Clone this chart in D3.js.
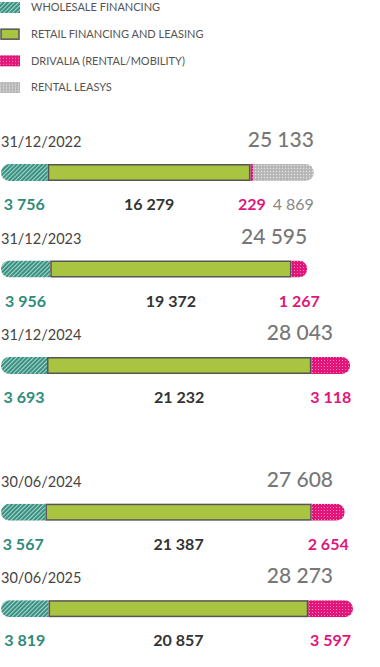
<!DOCTYPE html>
<html>
<head>
<meta charset="utf-8">
<script src="https://cdn.jsdelivr.net/npm/d3@7/dist/d3.min.js"></script>
<style>
  html, body { margin: 0; padding: 0; background: #fff; }
  svg { display: block; font-family: Lato, "Open Sans", sans-serif; }
</style>
</head>
<body>
<div id="chart"></div>
<script>
// ---- data ----
const dates = ["31/12/2022", "31/12/2023", "31/12/2024", "30/06/2024", "30/06/2025"];
const wholesale = [3756, 3956, 3693, 3567, 3819];
const retail = [16279, 19372, 21232, 21387, 20857];
const drivalia = [229, 1267, 3118, 2654, 3597];
const leasys = [4869, 0, 0, 0, 0];
const totals = [25133, 24595, 28043, 27608, 28273];
const seriesNames = ["WHOLESALE FINANCING", "RETAIL FINANCING AND LEASING", "DRIVALIA (RENTAL/MOBILITY)", "RENTAL LEASYS"];

// ---- setup ----
const W = 380, H = 667;
const svg = d3.select("#chart").append("svg").attr("width", W).attr("height", H);
const defs = svg.append("defs");

// patterns
const pW = defs.append("pattern").attr("id", "pWholesale").attr("patternUnits", "userSpaceOnUse")
  .attr("width", 3).attr("height", 3).attr("patternTransform", "rotate(45)");
pW.append("rect").attr("width", 3).attr("height", 3).attr("fill", "#348d7e");
pW.append("rect").attr("width", 1.1).attr("height", 3).attr("fill", "#a8d6cc");

const pD = defs.append("pattern").attr("id", "pDrivalia").attr("patternUnits", "userSpaceOnUse")
  .attr("width", 3).attr("height", 3);
pD.append("rect").attr("width", 3).attr("height", 3).attr("fill", "#e3157b");
pD.append("rect").attr("width", 1).attr("height", 1).attr("fill", "#f48abb");

const pL = defs.append("pattern").attr("id", "pLeasys").attr("patternUnits", "userSpaceOnUse")
  .attr("width", 3).attr("height", 3);
pL.append("rect").attr("width", 3).attr("height", 3).attr("fill", "#bdbdbd");
pL.append("rect").attr("width", 1).attr("height", 1).attr("fill", "#e2e2e2");
pL.append("rect").attr("x", 1.5).attr("y", 1.5).attr("width", 1).attr("height", 1).attr("fill", "#a2a2a2");

const fills = ["url(#pWholesale)", "#a9c440", "url(#pDrivalia)", "url(#pLeasys)"];
const labelColors = ["#2e8b7b", "#333333", "#e0177b", "#888888"];
const labelWeights = [700, 700, 700, 400];

// ---- legend ----
const legend = svg.append("g");
const legY = d3.scalePoint().domain(seriesNames).range([7.5, 87.5]);
seriesNames.forEach((name, i) => {
  const g = legend.append("g").attr("transform", `translate(0,${legY(name)})`);
  g.append("rect").attr("x", i === 1 ? 1 : 0).attr("y", i === 1 ? -5 : -5.5)
    .attr("width", i === 1 ? 18 : 20).attr("height", i === 1 ? 10 : 11)
    .attr("fill", fills[i])
    .attr("stroke", i === 1 ? "#555" : "none").attr("stroke-width", i === 1 ? 1.5 : 0);
  g.append("text").attr("x", 31).attr("y", 0).attr("dy", "0.35em")
    .attr("font-size", 11).attr("fill", "#555").text(name);
});

// ---- scales ----
const x = d3.scaleLinear().domain([0, d3.max(totals)]).range([1, 353]);
const slot = i => i + (i >= 3 ? 0.52 : 0);
const y = d3.scaleLinear().domain([0, 1]).range([164, 260.5]);
const barH = 17;
const fmt = d3.formatLocale({ thousands: " ", grouping: [3], decimal: "," }).format(",d");

// ---- rows ----
dates.forEach((date, i) => {
  const top = y(slot(i));
  const g = svg.append("g");
  const vals = [wholesale[i], retail[i], drivalia[i], leasys[i]];
  let cum = 0;
  const segs = vals.map((v, k) => {
    const s = { k, v, x0: x(cum), x1: x(cum + v) };
    cum += v;
    return s;
  }).filter(s => s.v > 0);
  const end = x(totals[i]);

  // clip for rounded ends
  const clipId = "clip" + i;
  defs.append("clipPath").attr("id", clipId)
    .append("rect").attr("x", x(0)).attr("y", top).attr("width", end - x(0)).attr("height", barH)
    .attr("rx", barH / 2).attr("ry", barH / 2);

  const bars = g.append("g").attr("clip-path", `url(#${clipId})`);
  segs.filter(s => s.k !== 1).forEach(s => {
    bars.append("rect").attr("x", s.x0).attr("y", top).attr("width", s.x1 - s.x0).attr("height", barH)
      .attr("fill", fills[s.k]);
  });
  segs.filter(s => s.k === 1).forEach(s => {
    g.append("rect").attr("x", s.x0 + 0.75).attr("y", top + 0.75).attr("width", s.x1 - s.x0 - 1.5)
      .attr("height", barH - 1.5).attr("fill", fills[1]).attr("stroke", "#555").attr("stroke-width", 1.5);
  });

  // date label
  g.append("text").attr("x", 1).attr("y", top - 17).attr("font-size", 14.5).attr("fill", "#444").text(date);
  // total
  g.append("text").attr("x", Math.min(end, W - 47)).attr("y", top - 17).attr("text-anchor", "end")
    .attr("font-size", 21).attr("font-weight", 500).attr("fill", "#777").text(fmt(totals[i]));

  // value labels
  const ly = top + barH / 2 + 32;
  segs.forEach(s => {
    const t = g.append("text").attr("y", ly).attr("dy", "0.35em")
      .attr("font-size", 16).attr("font-weight", labelWeights[s.k]).attr("fill", labelColors[s.k])
      .text(fmt(s.v));
    const w = t.node().getComputedTextLength();
    if (s.k === 3) {
      t.attr("x", s.x1).attr("text-anchor", "end");
    } else {
      const c = (s.x0 + s.x1) / 2;
      t.attr("x", Math.min(Math.max(c, w / 2), W - w / 2)).attr("text-anchor", "middle");
    }
  });
});
</script>
</body>
</html>
